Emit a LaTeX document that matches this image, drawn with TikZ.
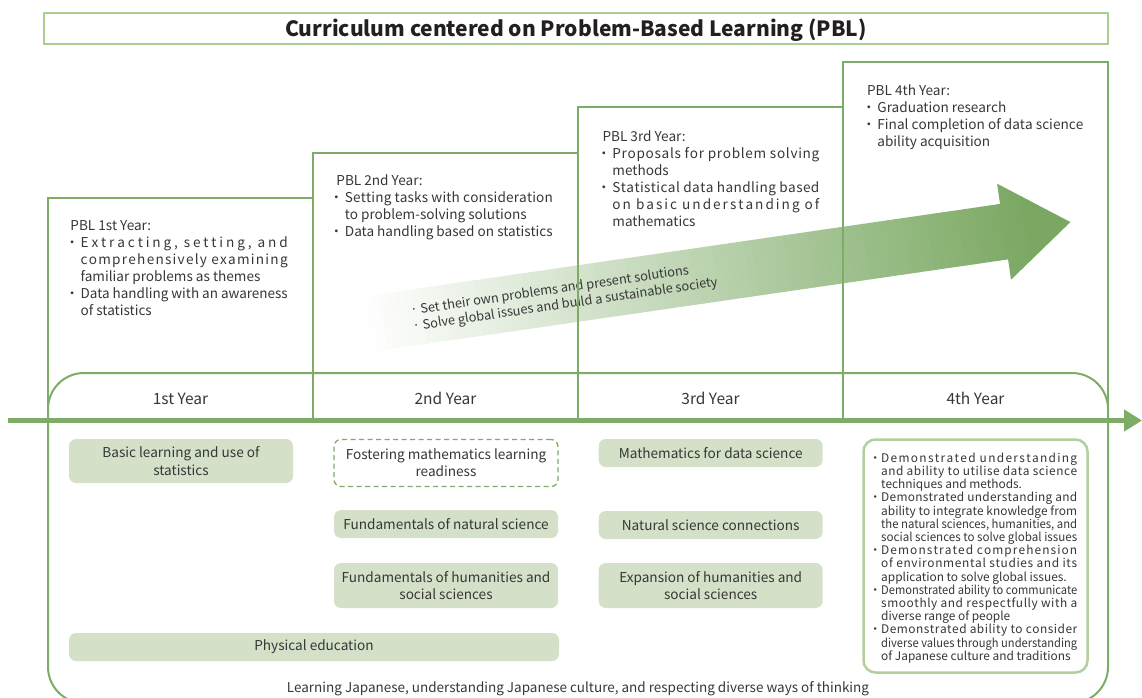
\documentclass[tikz,border=0pt]{standalone}
\usepackage{fontspec}
\setmainfont{Noto Sans CJK JP}
\usetikzlibrary{arrows.meta}
\definecolor{pblgreen}{RGB}{125,172,103}
\definecolor{lightgreen}{RGB}{170,207,145}
\definecolor{sage}{RGB}{212,224,200}
\definecolor{txt}{RGB}{55,55,55}
\definecolor{ttl}{RGB}{35,31,32}
\definecolor{arrowgreen}{RGB}{122,168,98}
\definecolor{outline}{RGB}{178,208,158}

\ExplSyntaxOn
\dim_new:N \g_rs_lw_dim
\box_new:N \l_rs_box
\NewDocumentCommand \setlinew { m } { \dim_gset:Nn \g_rs_lw_dim { #1 } }
\cs_new_protected:Npn \rs_fit:
  {
    \dim_compare:nNnT { \box_wd:N \l_rs_box } > { \g_rs_lw_dim }
      {
        \box_scale:Nnn \l_rs_box
          { \dim_to_fp:n { \g_rs_lw_dim } / \dim_to_fp:n { \box_wd:N \l_rs_box } }
          { 1 }
      }
  }
\NewDocumentCommand \jline { m }
  {
    \leavevmode
    \hbox_set:Nn \l_rs_box { #1 }
    \dim_compare:nNnTF { \box_wd:N \l_rs_box } > { \g_rs_lw_dim }
      { \rs_fit: \box_use:N \l_rs_box }
      {
        \hbox_to_wd:nn { \g_rs_lw_dim }
          {
            \skip_horizontal:n { 0pt plus -1fil }
            \str_map_inline:nn { #1 } { \str_if_eq:nnF { ##1 } { ~ } { \hfil } ##1 }
          }
      }
  }
\NewDocumentCommand \nline { m }
  {
    \leavevmode
    \hbox_set:Nn \l_rs_box { #1 }
    \rs_fit:
    \box_use:N \l_rs_box
  }
\ExplSyntaxOff
\newcommand\bul[1][1.7pt]{\leavevmode\llap{・\hspace{#1}}}

\tikzset{
  pbltext/.style={font=\fontsize{13.6}{17}\selectfont, text=txt, align=left, inner sep=0pt, anchor=north west},
  yearlbl/.style={font=\fontsize{15.5}{18}\selectfont, text=txt, anchor=base, inner sep=0pt},
  course/.style={fill=sage, rounded corners=7pt, minimum width=224pt, align=center, inner sep=0pt,
    font=\fontsize{13.6}{17.2}\selectfont, text=txt},
  pblline/.style={draw=pblgreen, line width=2pt},
}

\begin{document}
\begin{tikzpicture}[x=1pt,y=-1pt]
\useasboundingbox (0,0) rectangle (1142,698);
\clip (0,0) rectangle (1142,698);

% title
\node[draw=lightgreen, line width=2pt, minimum width=1064pt, minimum height=31.5pt, inner sep=0pt] (titlebox) at (576,28.3) {};
\node[font=\bfseries\fontsize{21}{24}\selectfont, text=ttl, anchor=base, inner sep=0pt] (title) at (576,36.5)
  {Curriculum centered on Problem-Based Learning (PBL)};

% gradient arrow
\begin{scope}[shift={(344,327.5)}, rotate=8.26]
  \clip (0,-28) -- (667,-28) -- (667,-48.5) -- (734,0) -- (667,48.5) -- (667,28) -- (0,28) -- cycle;
  \foreach \i in {0,...,92} {
    \pgfmathsetmacro\p{max(0,min(100,(\i*8-20)/6.7))}
    \fill[arrowgreen!\p!white] (\i*8,-50) rectangle (\i*8+8.8,50);
  }
\end{scope}
\begin{scope}[shift={(344,327.5)}, rotate=8.26, transform shape]
  \node[font=\fontsize{12.8}{16}\selectfont, text=txt, align=left, anchor=west, inner sep=0pt] (arrtext) at (68,1.5)
    {· Set their own problems and present solutions\\· Solve global issues and build a sustainable society};
\end{scope}

% PBL step outline
\coordinate (c1b) at (48,420);  \coordinate (c1t) at (48,198);  \coordinate (c1r) at (313,198);
\coordinate (c2b) at (313,420); \coordinate (c2t) at (313,153); \coordinate (c2r) at (578,153);
\coordinate (c3b) at (578,420); \coordinate (c3t) at (578,107); \coordinate (c3r) at (843,107);
\coordinate (c4b) at (843,420); \coordinate (c4t) at (843,62);  \coordinate (c4r) at (1108,62);
\coordinate (c5b) at (1108,420);
\draw[pblline] (c1b) -- (c1t) -- (c1r);
\draw[pblline] (c2b) -- (c2t) -- (c2r);
\draw[pblline] (c3b) -- (c3t) -- (c3r);
\draw[pblline] (c4b) -- (c4t) -- (c4r) -- (c5b);

% rounded frame
\draw[pblline, rounded corners=36pt] (48,373) rectangle (1108,703);

% axis
\coordinate (axL) at (8,420.5);
\coordinate (axR) at (1142,420.5);
\draw[pblgreen, line width=4.5pt, -{Triangle[length=18pt,width=21pt]}] (axL) -- (axR);

% PBL texts
\node[pbltext] (pbl1) at (70.2,220.4) {\setlinew{207pt}PBL 1st Year:\\
\hspace*{10.3pt}\bul\jline{Extracting, setting, and}\\
\hspace*{10.3pt}\jline{comprehensively examining}\\
\hspace*{10.3pt}\nline{familiar problems as themes}\\
\hspace*{10.3pt}\bul\jline{Data handling with an awareness}\\
\hspace*{10.3pt}\nline{of statistics}};

\node[pbltext] (pbl2) at (336.2,174.7) {\setlinew{208pt}PBL 2nd Year:\\
\hspace*{8.5pt}\bul\jline{Setting tasks with consideration}\\
\hspace*{8.5pt}\nline{to problem-solving solutions}\\
\hspace*{8.5pt}\bul\nline{Data handling based on statistics}};

\node[pbltext] (pbl3) at (602.3,130.4) {\setlinew{207pt}PBL 3rd Year:\\
\hspace*{9.9pt}\bul\jline{Proposals for problem solving}\\
\hspace*{9.9pt}\nline{methods}\\
\hspace*{9.9pt}\bul\jline{Statistical data handling based}\\
\hspace*{9.9pt}\jline{on basic understanding of}\\
\hspace*{9.9pt}\nline{mathematics}};

\node[pbltext] (pbl4) at (866.9,84.7) {\setlinew{206pt}PBL 4th Year:\\
\hspace*{10.3pt}\bul\nline{Graduation research}\\
\hspace*{10.3pt}\bul\jline{Final completion of data science}\\
\hspace*{10.3pt}\nline{ability acquisition}};

% year labels
\node[yearlbl] (y1) at (180.5,404) {1st Year};
\node[yearlbl] (y2) at (445.5,404) {2nd Year};
\node[yearlbl] (y3) at (710.5,404) {3rd Year};
\node[yearlbl] (y4) at (975.5,404) {4th Year};

% courses
\node[course, minimum height=44pt] (basic) at (181,461) {Basic learning and use of\\statistics};
\node[course, minimum height=47pt, fill=white, draw=pblgreen, line width=1.3pt, dash pattern=on 5pt off 3.5pt] (foster) at (446,463) {Fostering mathematics learning\\readiness};
\node[course, minimum height=28pt] (natsci) at (446,524) {Fundamentals of natural science};
\node[course, minimum height=45pt] (humsoc) at (446,585.5) {Fundamentals of humanities and\\social sciences};
\node[course, minimum height=28pt, minimum width=490pt] (phys) at (314,647) {Physical education};
\node[course, minimum height=28pt] (mathds) at (710.7,453) {Mathematics for data science};
\node[course, minimum height=28pt] (natcon) at (710.7,525) {Natural science connections};
\node[course, minimum height=45pt] (exphum) at (710.7,585.5) {Expansion of humanities and\\social sciences};

% outcomes
\node[draw=outline, line width=2.5pt, rounded corners=12pt, minimum width=224pt, minimum height=233pt, fill=white, inner sep=0pt] (outbox) at (975.5,556) {};
\node[font=\fontsize{11.9}{13.2}\selectfont, text=txt, align=left, inner sep=0pt, anchor=north west] (outtext) at (881,452.6) {\setlinew{196pt}%
\bul[0pt]\jline{Demonstrated understanding}\\
\jline{and ability to utilise data science}\\
\nline{techniques and methods.}\\
\bul[0pt]\jline{Demonstrated understanding and}\\
\jline{ability to integrate knowledge from}\\
\jline{the natural sciences, humanities, and}\\
\nline{social sciences to solve global issues}\\
\bul[0pt]\jline{Demonstrated comprehension}\\
\jline{of environmental studies and its}\\
\nline{application to solve global issues.}\\
\bul[0pt]\jline{Demonstrated ability to communicate}\\
\jline{smoothly and respectfully with a}\\
\nline{diverse range of people}\\
\bul[0pt]\jline{Demonstrated ability to consider}\\
\jline{diverse values through understanding}\\
\nline{of Japanese culture and traditions}};

% bottom text
\node[font=\fontsize{13.5}{16}\selectfont, text=txt, anchor=base, inner sep=0pt] (bottom) at (578,692)
  {Learning Japanese, understanding Japanese culture, and respecting diverse ways of thinking};
\end{tikzpicture}
\end{document}
